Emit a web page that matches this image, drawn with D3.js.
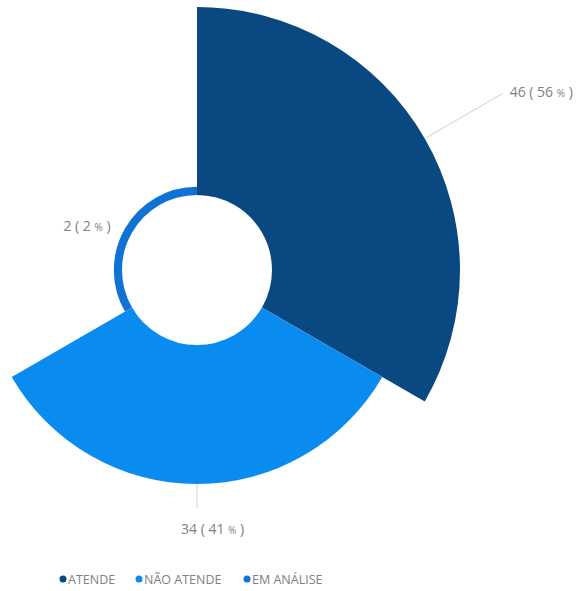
<!DOCTYPE html>
<html>
<head>
<meta charset="utf-8">
<script src="https://cdn.jsdelivr.net/npm/d3@7"></script>
<style>
  html, body { margin: 0; padding: 0; background: #fff; }
  svg { display: block; font-family: "Open Sans", "Segoe UI", sans-serif; }
</style>
</head>
<body>
<svg id="chart" width="576" height="591"></svg>
<script>
// Status categories and counts
const categories = ["ATENDE", "NÃO ATENDE", "EM ANÁLISE"];
const values = [46, 34, 2];
const colors = ["#0A4882", "#0A8BF0", "#1172D6"];

const width = 576, height = 591;
const cx = 197, cy = 270;
const innerR = 75, outerR = 263;

const svg = d3.select("#chart");
const total = d3.sum(values);

// Equal-angle rose: every slice gets the same angle, radius follows the value
const angle = d3.scaleBand().domain(categories).range([0, 2 * Math.PI]).paddingInner(0).paddingOuter(0);
const radius = d3.scaleLinear().domain([0, d3.max(values)]).range([innerR, outerR]);

const data = categories.map((c, i) => ({ name: c, value: values[i], color: colors[i] }));

const g = svg.append("g").attr("transform", `translate(${cx},${cy})`);

const arc = d3.arc()
  .innerRadius(innerR)
  .outerRadius(d => radius(d.value))
  .startAngle(d => angle(d.name))
  .endAngle(d => angle(d.name) + angle.bandwidth());

g.selectAll("path.slice")
  .data(data)
  .join("path")
  .attr("class", "slice")
  .attr("d", arc)
  .attr("fill", d => d.color);

// Labels with leader lines
const pct = v => Math.round(v / total * 100);
function pos(a, r) { return [Math.sin(a) * r, -Math.cos(a) * r]; }

data.forEach((d, i) => {
  const mid = angle(d.name) + angle.bandwidth() / 2;
  const r = radius(d.value);
  let p0 = pos(mid, r);
  let p1, anchor, tx, ty;
  if (i === 0) {
    p1 = pos(mid, r + 90);
    anchor = "start"; tx = p1[0] + 7; ty = p1[1] + 3;
  } else if (i === 1) {
    p1 = pos(mid, r + 24);
    anchor = "start"; tx = p1[0] - 16; ty = p1[1] + 26;
  } else {
    p1 = pos(mid, r + 4);
    anchor = "end"; tx = p1[0] - 11; ty = p1[1] + 5;
  }
  if (i !== 2) {
    g.append("line")
      .attr("x1", p0[0]).attr("y1", p0[1])
      .attr("x2", p1[0]).attr("y2", p1[1])
      .attr("stroke", "#cfcfcf").attr("stroke-width", 1);
  }
  const t = g.append("text")
    .attr("x", tx).attr("y", ty)
    .attr("text-anchor", anchor)
    .attr("fill", "#808080")
    .attr("font-size", 14);
  t.append("tspan").text(d.value + " ( " + pct(d.value) + " ");
  t.append("tspan").attr("font-size", 10).text("%");
  t.append("tspan").text(" )");
});

// Legend
const legend = svg.append("g").attr("transform", "translate(0,579)");
const legendX = [63, 139, 247];
data.forEach((d, i) => {
  legend.append("circle").attr("cx", legendX[i]).attr("cy", 0).attr("r", 3.5).attr("fill", d.color);
  legend.append("text")
    .attr("x", legendX[i] + 5).attr("y", 4.5)
    .attr("fill", "#808080").attr("font-size", 12.5)
    .text(d.name);
});
</script>
</body>
</html>
